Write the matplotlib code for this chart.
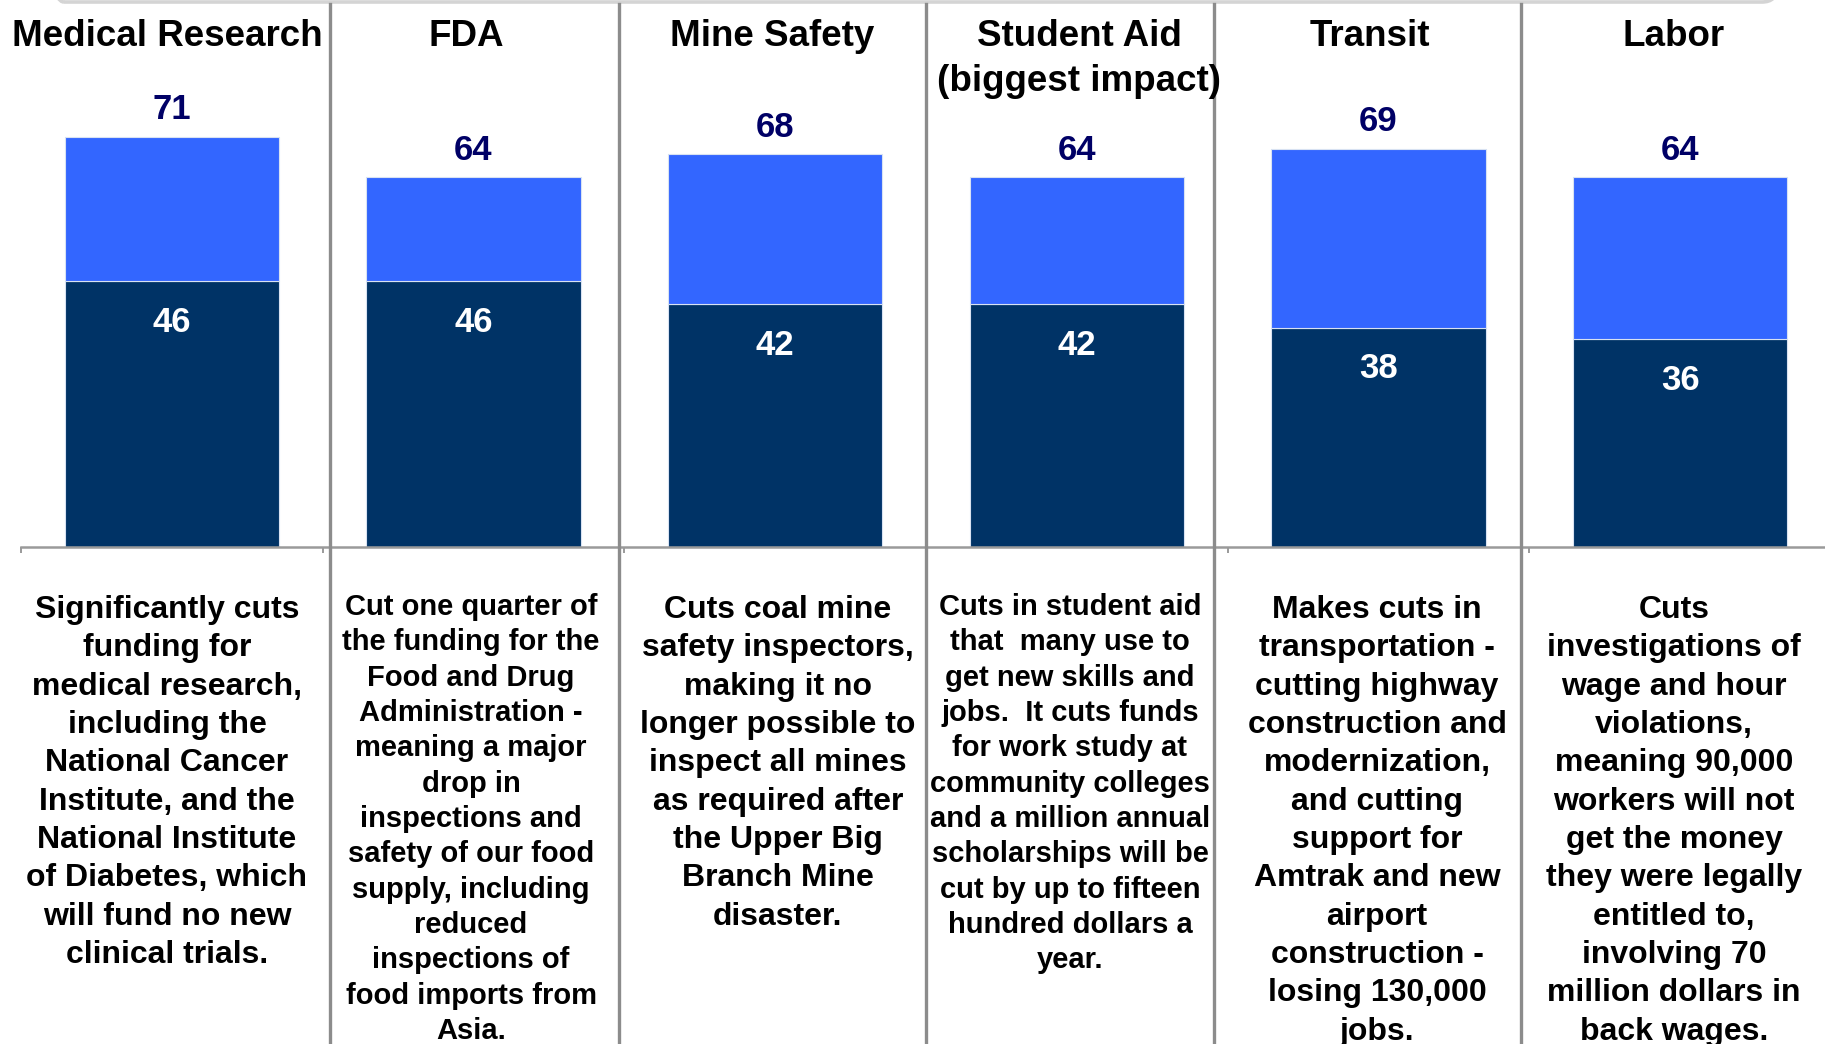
import matplotlib.pyplot as plt
import matplotlib.transforms as mtransforms
from matplotlib.lines import Line2D
from matplotlib.patches import FancyBboxPatch

# ------------------------------
# DATA
# ------------------------------
categories = ["Medical Research", "FDA", "Mine Safety",
              "Student Aid\n(biggest impact)", "Transit", "Labor"]
strong_oppose = [46, 46, 42, 42, 38, 36]
total_oppose = [71, 64, 68, 64, 69, 64]

descriptions = [
    "Significantly cuts\nfunding for\nmedical research,\nincluding the\nNational Cancer\n"
    "Institute, and the\nNational Institute\nof Diabetes, which\nwill fund no new\nclinical trials.",
    "Cut one quarter of\nthe funding for the\nFood and Drug\nAdministration -\nmeaning a major\n"
    "drop in\ninspections and\nsafety of our food\nsupply, including\nreduced\ninspections of\n"
    "food imports from\nAsia.",
    "Cuts coal mine\nsafety inspectors,\nmaking it no\nlonger possible to\ninspect all mines\n"
    "as required after\nthe Upper Big\nBranch Mine\ndisaster.",
    "Cuts in student aid\nthat  many use to\nget new skills and\njobs.  It cuts funds\n"
    "for work study at\ncommunity colleges\nand a million annual\nscholarships will be\n"
    "cut by up to fifteen\nhundred dollars a\nyear.",
    "Makes cuts in\ntransportation -\ncutting highway\nconstruction and\nmodernization,\n"
    "and cutting\nsupport for\nAmtrak and new\nairport\nconstruction -\nlosing 130,000\njobs.",
    "Cuts\ninvestigations of\nwage and hour\nviolations,\nmeaning 90,000\nworkers will not\n"
    "get the money\nthey were legally\nentitled to,\ninvolving 70\nmillion dollars in\nback wages.",
]
desc_sizes = [23, 21, 23, 21, 23, 23]

# ------------------------------
# LAYOUT (pixels)
# ------------------------------
W, H = 1825, 1044
BASE_PX = 547          # y of the baseline from the top
PX_PER_UNIT = 5.775
SEP_PX = [330, 619, 926, 1214, 1521]
TITLE_X_PX = [167, 466, 772, 1079, 1370, 1674]
DESC_X_PX = [167, 471, 778, 1070, 1377, 1674]
FONT = "Liberation Sans"
GREY = "#8c8c8c"

fig = plt.figure(figsize=(W / 100, H / 100), dpi=100)
ax = fig.add_axes([21 / W, 1 - BASE_PX / H, 1810 / W, BASE_PX / H])

x = list(range(len(categories)))
lighter = [t - s for t, s in zip(total_oppose, strong_oppose)]
ax.bar(x, strong_oppose, width=0.71, color="#003366", edgecolor="#d8e2f2", linewidth=0.8)
ax.bar(x, lighter, bottom=strong_oppose, width=0.71, color="#3366FF",
       edgecolor="#d8e2f2", linewidth=0.8)

ax.set_xlim(-0.5, len(categories) - 0.5)
ax.set_ylim(0, BASE_PX / PX_PER_UNIT)
for s in ["top", "left", "right"]:
    ax.spines[s].set_visible(False)
ax.spines["bottom"].set_color("#9a9a9a")
ax.spines["bottom"].set_linewidth(1.8)
ax.set_xticks([i - 0.5 for i in range(len(categories) + 1)])
ax.tick_params(axis="x", length=4, width=1.4, color="#9a9a9a", labelbottom=False)
ax.set_yticks([])

# value labels
for i in x:
    ax.text(i, total_oppose[i] + 17.5 / PX_PER_UNIT, str(total_oppose[i]),
            ha="center", va="baseline", fontsize=25, fontweight="bold",
            color="#000066", family=FONT)
    ax.text(i, strong_oppose[i] - 50.5 / PX_PER_UNIT, str(strong_oppose[i]),
            ha="center", va="baseline", fontsize=25, fontweight="bold",
            color="white", family=FONT)


def stacked_lines(x_px, text, first_baseline_px, size, step_factor):
    # one text per line so the line pitch matches the slide
    step = step_factor * size / 0.72
    for k, line in enumerate(text.split("\n")):
        y_px = first_baseline_px + k * step
        fig.text(x_px / W, 1 - y_px / H, line, ha="center", va="baseline",
                 fontsize=size, fontweight="bold", color="black", family=FONT)


# column titles and descriptions
for i in x:
    stacked_lines(TITLE_X_PX[i], categories[i], 46, 26.5, 1.22)
    if desc_sizes[i] >= 23:
        stacked_lines(DESC_X_PX[i], descriptions[i], 618, desc_sizes[i], 1.2)
    else:
        stacked_lines(DESC_X_PX[i], descriptions[i], 615, desc_sizes[i], 1.212)

# column separators
for xp in SEP_PX:
    fig.add_artist(Line2D([xp / W, xp / W], [0, 1 - 4 / H], transform=fig.transFigure,
                          color=GREY, linewidth=2.4))

# edge of the rounded frame above the chart
fig.add_artist(FancyBboxPatch((0.49, 10.42), 17.28, 1.0,
                              boxstyle="round,pad=0,rounding_size=0.15",
                              transform=fig.dpi_scale_trans, facecolor="none",
                              edgecolor="#d4d4d4", linewidth=2.6))

fig.savefig("out.png", dpi=100)
